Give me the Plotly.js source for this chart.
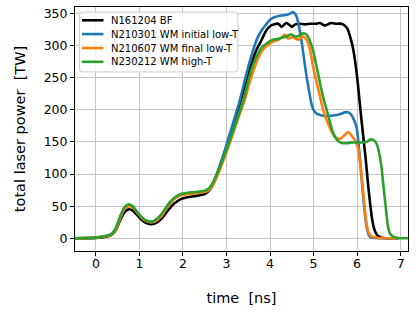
<!DOCTYPE html>
<html>
<head>
<meta charset="utf-8">
<script src="https://cdn.plot.ly/plotly-3.0.1.min.js"></script>
<style>html,body{margin:0;padding:0;background:#fff;}#chart{width:416px;height:313px;}</style>
</head>
<body>
<div id="chart"></div>
<script>
// Series names
const seriesNames = ["N161204 BF", "N210301 WM initial low-T", "N210607 WM final low-T", "N230212 WM high-T"];
const seriesColors = ["#000000", "#1f77b4", "#ff7f0e", "#2ca02c"];

// N161204 BF (black)
const tBlack = [-0.48,0,0.2,0.35,0.45,0.55,0.65,0.75,0.85,0.95,1.05,1.15,1.25,1.35,1.5,1.65,1.8,1.95,2.1,2.3,2.5,2.6,2.7,2.8,2.9,3.0,3.1,3.2,3.3,3.4,3.5,3.6,3.7,3.77,3.85,3.9,4.0,4.1,4.19,4.27,4.33,4.38,4.45,4.5,4.58,4.69,4.8,4.92,5.05,5.15,5.26,5.33,5.4,5.53,5.64,5.72,5.78,5.84,5.9,5.95,6.0,6.06,6.1,6.14,6.2,6.25,6.3,6.35,6.4,6.45,6.5,6.6,6.95];
const vBlack = [0,0.5,2,5,12,27,40,45,43,36,29,24,22,23,30,43,54,61,64,66,69,74,85,103,122,143,165,187,208,232,256,277,295,304,315,322,330,333,334,329,333,335,332,329,333,334,333,334,334,335,331,333,335,334,334,331,326,314,298,278,252,212,185,160,122,86,54,28,13,6,3,0.5,0];

// N210301 WM initial low-T (blue)
const tBlue = [-0.48,0,0.2,0.35,0.45,0.55,0.65,0.75,0.85,0.95,1.05,1.15,1.25,1.35,1.5,1.65,1.8,1.95,2.1,2.3,2.5,2.6,2.7,2.8,2.9,3.0,3.1,3.2,3.3,3.4,3.5,3.6,3.7,3.8,3.9,4.0,4.1,4.2,4.3,4.4,4.47,4.52,4.57,4.62,4.67,4.72,4.78,4.84,4.9,4.95,5.0,5.07,5.15,5.3,5.45,5.6,5.72,5.8,5.87,5.93,5.99,6.03,6.07,6.11,6.15,6.19,6.23,6.27,6.32,6.4,6.95];
const vBlue = [0,1,3,6,14,31,46,51,48,40,32,27,25,26,35,50,62,68,70,71,73,77,87,104,124,145,168,190,213,240,267,290,310,323,332,340,344,346,347,348,350,352,350,343,328,309,280,252,228,210,200,194,192,190,191,193,196,196,192,184,172,150,120,88,58,32,14,5,1.5,0.5,0];

// N210607 WM final low-T (orange)
const tOrange = [-0.48,0,0.2,0.35,0.45,0.55,0.65,0.75,0.85,0.95,1.05,1.15,1.25,1.35,1.5,1.65,1.8,1.95,2.1,2.3,2.5,2.6,2.7,2.8,2.9,3.0,3.1,3.2,3.3,3.42,3.5,3.6,3.7,3.8,3.9,4.0,4.07,4.15,4.22,4.3,4.34,4.41,4.47,4.53,4.6,4.65,4.71,4.76,4.82,4.88,4.93,4.99,5.07,5.15,5.22,5.3,5.4,5.49,5.56,5.64,5.72,5.78,5.83,5.87,5.93,5.98,6.03,6.06,6.1,6.14,6.18,6.22,6.26,6.31,6.37,6.5,6.95];
const vOrange = [0,1,3,5,13,30,45,50,48,40,32,27,25,26,34,49,61,67,69,70,72,75,84,99,116,134,153,173,193,215,235,257,276,290,298,303,306,308,310,315,317,311,312,313,310,309,312,314,311,303,290,267,243,220,200,184,168,158,155,156,161,165,164,160,155,148,138,122,100,72,44,22,10,4,2,0.5,0];

// N230212 WM high-T (green)
const tGreen = [-0.48,0,0.2,0.35,0.45,0.55,0.65,0.75,0.85,0.95,1.05,1.15,1.25,1.35,1.5,1.65,1.8,1.95,2.1,2.3,2.5,2.6,2.7,2.8,2.9,3.0,3.1,3.2,3.3,3.4,3.5,3.6,3.7,3.8,3.9,4.0,4.07,4.15,4.22,4.3,4.38,4.45,4.5,4.57,4.63,4.7,4.76,4.82,4.88,4.93,4.99,5.07,5.15,5.22,5.3,5.38,5.45,5.52,5.59,5.68,5.76,5.88,5.99,6.1,6.22,6.28,6.33,6.38,6.45,6.5,6.56,6.6,6.64,6.68,6.71,6.76,6.83,6.9,7.0,7.17];
const vGreen = [0,1,3,6,15,33,48,53,50,41,33,28,26,28,37,52,63,69,71,72,74,78,88,103,120,138,157,176,196,217,245,268,284,296,302,307,309,310,311,313,314,317,317,314,314,317,319,318,313,305,292,267,241,220,200,180,164,155,150,148,148,149,149,149,150,153,154,153,147,135,112,85,60,35,18,7,2.5,1,0,0];

// Axis ticks
const xTicks = [0,1,2,3,4,5,6,7];
const yTicks = [0,50,100,150,200,250,300,350];

const tArr = [tBlack, tBlue, tOrange, tGreen];
const vArr = [vBlack, vBlue, vOrange, vGreen];

const traces = seriesNames.map((n, i) => ({
  x: tArr[i], y: vArr[i], name: n, type: 'scatter', mode: 'lines',
  line: {color: seriesColors[i], width: 2.6, shape: 'spline', smoothing: 0.5}
}));

// Plot area geometry (px) for placing the legend box
const W = 416, H = 313;
const M = {l: 75, r: 7.7, t: 6.7, b: 62};
const pw = W - M.l - M.r, ph = H - M.t - M.b;
const px = v => (v - M.l) / pw;
const py = v => 1 - (v - M.t) / ph;

// Legend drawn as box + sample lines + labels
const box = {x0: 79.5, x1: 238, y0: 11.7, y1: 71.7, r: 3};
const boxPath = [
  `M ${px(box.x0 + box.r)} ${py(box.y0)}`,
  `L ${px(box.x1 - box.r)} ${py(box.y0)}`,
  `Q ${px(box.x1)} ${py(box.y0)} ${px(box.x1)} ${py(box.y0 + box.r)}`,
  `L ${px(box.x1)} ${py(box.y1 - box.r)}`,
  `Q ${px(box.x1)} ${py(box.y1)} ${px(box.x1 - box.r)} ${py(box.y1)}`,
  `L ${px(box.x0 + box.r)} ${py(box.y1)}`,
  `Q ${px(box.x0)} ${py(box.y1)} ${px(box.x0)} ${py(box.y1 - box.r)}`,
  `L ${px(box.x0)} ${py(box.y0 + box.r)}`,
  `Q ${px(box.x0)} ${py(box.y0)} ${px(box.x0 + box.r)} ${py(box.y0)} Z`
].join(' ');
const rowY = [20, 33.8, 47.8, 61.6];
const shapes = [{
  type: 'path', xref: 'paper', yref: 'paper', path: boxPath, layer: 'above',
  fillcolor: 'rgba(255,255,255,0.8)', line: {color: '#d0d0d0', width: 1}
}];
const annotations = [];
seriesNames.forEach((n, i) => {
  shapes.push({type: 'line', xref: 'paper', yref: 'paper', layer: 'above',
    x0: px(82), x1: px(103.5), y0: py(rowY[i]), y1: py(rowY[i]),
    line: {color: seriesColors[i], width: 2.6}});
  annotations.push({xref: 'paper', yref: 'paper', x: px(109), y: py(rowY[i]),
    xanchor: 'left', yanchor: 'middle', showarrow: false, text: n,
    font: {family: "DejaVu Sans, sans-serif", size: 10, color: '#000'}});
});

const font = "DejaVu Sans, sans-serif";
const layout = {
  width: W, height: H,
  margin: M,
  paper_bgcolor: '#fff', plot_bgcolor: '#fff',
  font: {family: font, color: '#000', size: 12},
  showlegend: false,
  shapes: shapes,
  annotations: annotations,
  xaxis: {
    range: [-0.48, 7.17], tickvals: xTicks, ticktext: xTicks.map(String),
    showgrid: true, gridcolor: '#c4c4c4', gridwidth: 1, zeroline: false,
    showline: true, linecolor: '#000', linewidth: 1, mirror: true,
    ticks: 'outside', ticklen: 1, tickwidth: 1, tickcolor: '#000',
    minor: {tickvals: xTicks, ticks: 'outside', ticklen: 4, tickwidth: 1, tickcolor: '#000', showgrid: false},
    tickfont: {family: font, size: 12.5, color: '#000'},
    title: {text: 'time \u00a0[ns]', font: {family: font, size: 14.5, color: '#000'}, standoff: 22}
  },
  yaxis: {
    range: [-19.8, 360], tickvals: yTicks, ticktext: yTicks.map(String),
    showgrid: true, gridcolor: '#c4c4c4', gridwidth: 1, zeroline: false,
    showline: true, linecolor: '#000', linewidth: 1, mirror: true,
    ticks: 'outside', ticklen: 4, tickwidth: 1, tickcolor: '#000',
    tickfont: {family: font, size: 12.5, color: '#000'},
    title: {text: 'total laser power \u00a0[TW]', font: {family: font, size: 14.5, color: '#000'}, standoff: 14}
  }
};

Plotly.newPlot('chart', traces, layout, {staticPlot: true, displayModeBar: false});
</script>
</body>
</html>
